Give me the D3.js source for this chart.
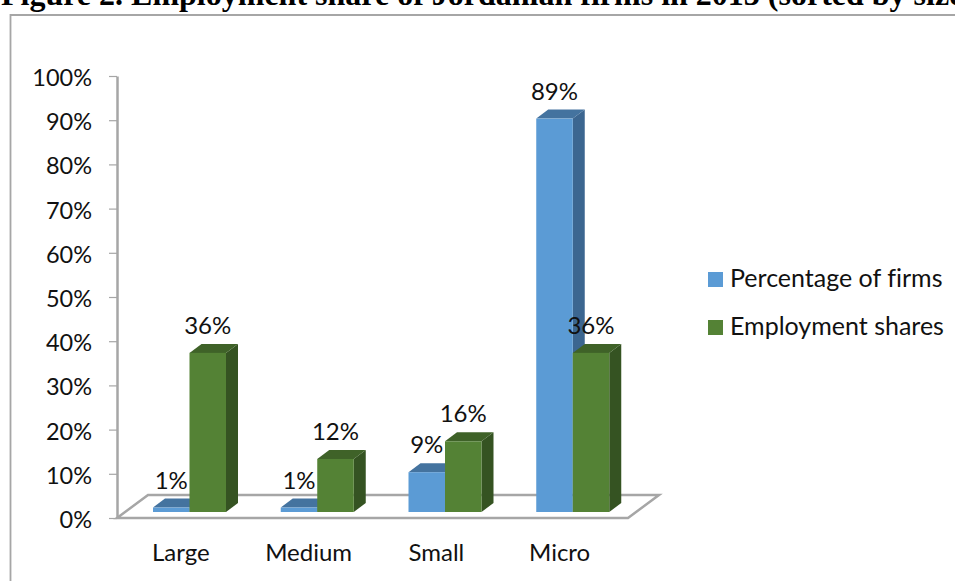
<!DOCTYPE html>
<html>
<head>
<meta charset="utf-8">
<script src="https://cdn.jsdelivr.net/npm/d3@7"></script>
<style>
  html, body { margin: 0; padding: 0; background: #fff; overflow: hidden; }
  svg { display: block; }
  text { font-family: Lato, sans-serif; fill: #111; font-variant-ligatures: none; }
</style>
</head>
<body>
<svg id="chart"></svg>
<script>
const categories = ['Large', 'Medium', 'Small', 'Micro'];
const seriesNames = ['Percentage of firms', 'Employment shares'];
const firms = [1, 1, 9, 89];
const employment = [36, 12, 16, 36];
const yTicks = [0, 10, 20, 30, 40, 50, 60, 70, 80, 90, 100];
const titleText = 'Figure 2. Employment share of Jordanian firms in 2013 (sorted by size)';

const width = 955;
const height = 581;
const colors = [
  {front: '#5b9bd5', top: '#44739f', side: '#3c6690'},
  {front: '#548235', top: '#3f6228', side: '#355322'}
];

const svg = d3.select('#chart').attr('width', width).attr('height', height);

const x = d3.scaleBand().domain(categories).range([117, 628]);
const y = d3.scaleLinear().domain([0, 100]).range([518, 76]);
const barW = 36.5;

// title, cut off by the top of the crop
svg.append('text')
  .attr('x', 1).attr('y', 5)
  .style('font-family', '"Liberation Serif", serif')
  .style('font-weight', 'bold')
  .style('font-size', '32px')
  .style('fill', '#000')
  .text(titleText);

// chart frame
svg.append('path')
  .attr('d', d3.line()([[10.5, height], [10.5, 15], [width, 15]]))
  .attr('fill', 'none').attr('stroke', '#a6a6a6').attr('stroke-width', 1.8);

// floor
const floorDx = 31, floorDy = -23;
svg.append('path')
  .attr('d', d3.line()([
    [x.range()[0], y(0)], [x.range()[1], y(0)],
    [x.range()[1] + floorDx, y(0) + floorDy], [x.range()[0] + floorDx, y(0) + floorDy]
  ]) + 'Z')
  .attr('fill', '#fff').attr('stroke', '#a6a6a6').attr('stroke-width', 2.5);

// y axis
const yAxis = svg.append('g')
  .attr('transform', `translate(${x.range()[0]},0)`)
  .call(d3.axisLeft(y).tickValues(yTicks).tickFormat(d => d + '%').tickSize(8).tickSizeOuter(0));
yAxis.select('.domain').attr('stroke', '#a6a6a6').attr('stroke-width', 2.5);
yAxis.selectAll('.tick line').attr('stroke', '#a6a6a6').attr('stroke-width', 1.2);
yAxis.selectAll('text')
  .attr('x', -25).attr('dy', '0.4em')
  .style('font-size', '23.5px').style('font-family', 'Lato, sans-serif').style('fill', '#111');

// category labels
const xAxis = svg.append('g')
  .attr('transform', `translate(0,${y(0)})`)
  .call(d3.axisBottom(x).tickSize(0));
xAxis.select('.domain').remove();
xAxis.selectAll('text')
  .attr('y', 26)
  .attr('dx', d => d === 'Micro' ? -4.5 : 0)
  .style('font-size', '24px').style('font-family', 'Lato, sans-serif').style('fill', '#111');

// bars: each has a front, a top and a side face
const depthX = 12, depthY = -9, baseLift = 6, barShift = 36;
const series = [firms, employment];

categories.forEach((cat, c) => {
  series.forEach((vals, s) => {
    const v = vals[c];
    const left = x(cat) + barShift + s * barW;
    const right = left + barW;
    const base = y(0) - baseLift;
    const top = y(v) - baseLift;
    const g = svg.append('g').attr('class', 'bar');
    g.append('path')
      .attr('d', d3.line()([[right, base], [right + depthX, base + depthY], [right + depthX, top + depthY], [right, top]]) + 'Z')
      .attr('fill', colors[s].side);
    g.append('path')
      .attr('d', d3.line()([[left, top], [left + depthX, top + depthY], [right + depthX, top + depthY], [right, top]]) + 'Z')
      .attr('fill', colors[s].top);
    g.append('rect')
      .attr('x', left).attr('y', top)
      .attr('width', barW).attr('height', base - top)
      .attr('fill', colors[s].front);
  });
});

// data labels go on last so they sit over the bars
categories.forEach((cat, c) => {
  series.forEach((vals, s) => {
    const v = vals[c];
    svg.append('text')
      .attr('x', x(cat) + barShift + s * barW + barW / 2)
      .attr('y', y(v) - 6 - 19)
      .attr('text-anchor', 'middle')
      .style('font-size', '24px')
      .text(v + '%');
  });
});

// legend
const legend = svg.append('g');
seriesNames.forEach((name, i) => {
  const ly = 279.5 + i * 48;
  legend.append('rect')
    .attr('x', 708).attr('y', ly - 7.5)
    .attr('width', 15).attr('height', 15)
    .attr('fill', colors[i].front);
  legend.append('text')
    .attr('x', 730).attr('y', ly + 7.5)
    .style('font-size', '25px')
    .text(name);
});
</script>
</body>
</html>
